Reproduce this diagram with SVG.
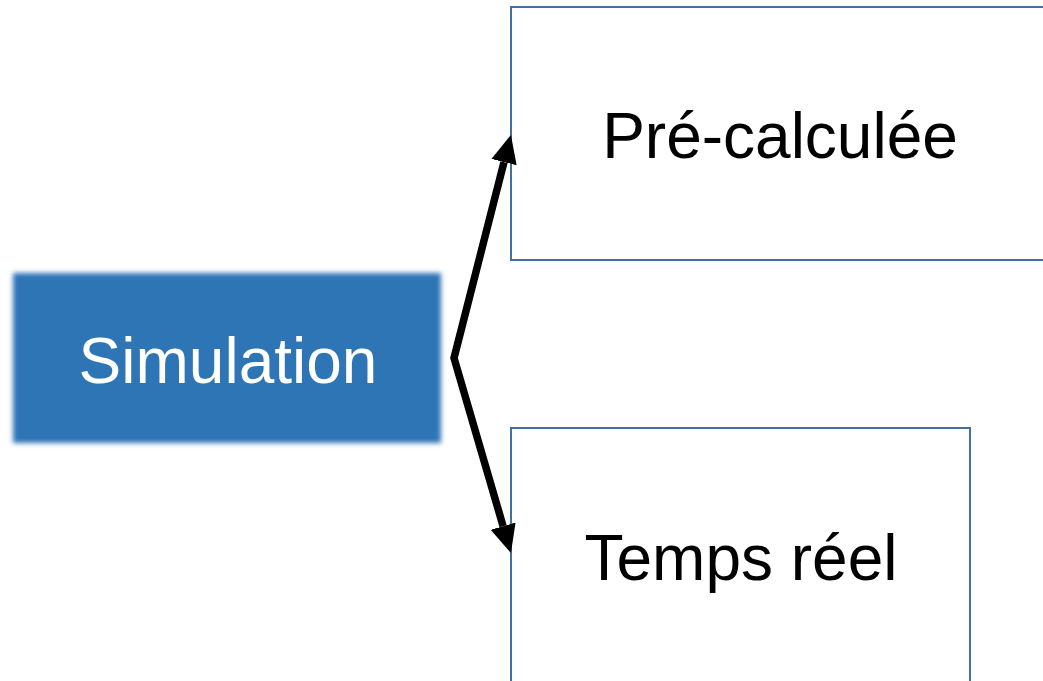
<svg xmlns="http://www.w3.org/2000/svg" width="1043" height="681" viewBox="0 0 1043 681">
  <style>
    .lbl { font-family: "Liberation Sans", Arial, sans-serif; font-size: 64px; text-anchor: middle; }
    .box { fill: #FFFFFF; stroke: #41719C; stroke-width: 2; }
    .conn { fill: none; stroke: #000000; stroke-width: 7.5; stroke-linejoin: miter; stroke-miterlimit: 10; }
  </style>
  <defs>
    <filter id="soft" x="-10%" y="-20%" width="120%" height="140%">
      <feGaussianBlur stdDeviation="2.8"/>
    </filter>
    <marker id="arrow" markerUnits="userSpaceOnUse" viewBox="0 -14 28 28" refX="0" refY="0" markerWidth="28" markerHeight="28" orient="auto-start-reverse">
      <polygon points="0,-13 28,0 0,13" fill="#000000"/>
    </marker>
  </defs>
  <rect width="1043" height="681" fill="#FFFFFF"/>
  <g id="node-simulation">
    <rect x="13" y="273" width="428" height="170" fill="#2E75B6" filter="url(#soft)"/>
    <text class="lbl" x="228" y="383" fill="#FFFFFF">Simulation</text>
  </g>
  <g id="node-precalculee">
    <rect class="box" x="511" y="7" width="545" height="253"/>
    <text class="lbl" x="780" y="158" fill="#000000">Pré-calculée</text>
  </g>
  <g id="node-tempsreel">
    <rect class="box" x="511" y="428" width="459" height="270"/>
    <text class="lbl" x="741" y="580" fill="#000000">Temps réel</text>
  </g>
  <g id="connectors">
    <path class="conn" d="M504,162.1 L454,358 L503.1,526.2" marker-start="url(#arrow)" marker-end="url(#arrow)"/>
  </g>
</svg>
